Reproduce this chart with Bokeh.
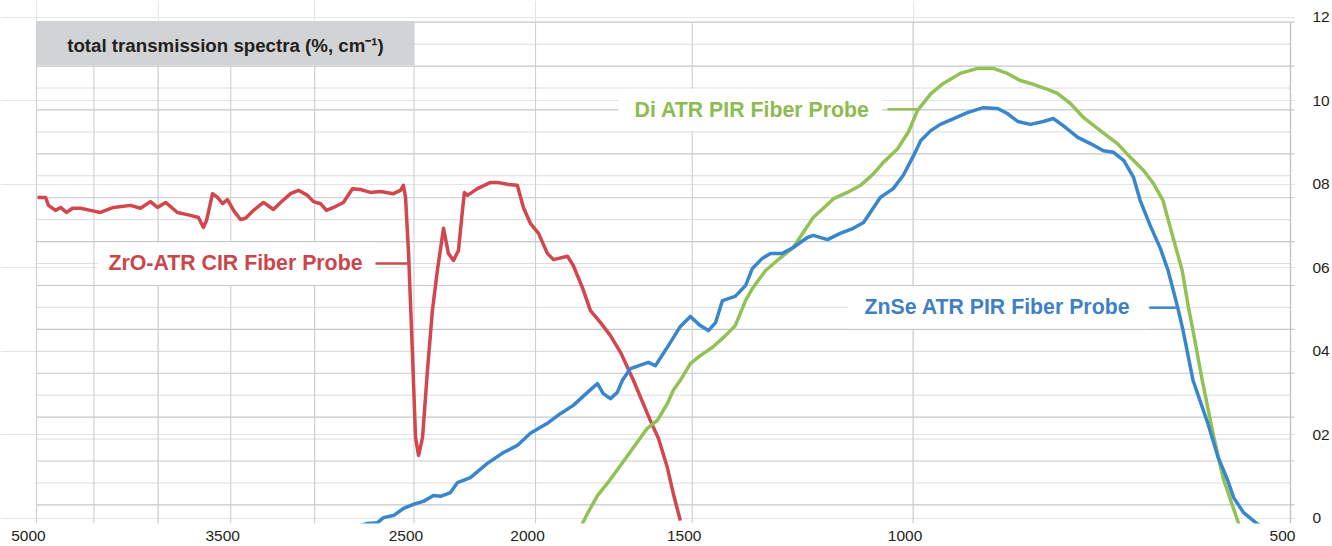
from bokeh.plotting import figure
from bokeh.models import Range1d, LogAxis, LinearAxis, FixedTicker, LogScale, Label
from bokeh.embed import file_html
from bokeh.resources import INLINE

# ---------------- data ----------------
x_ticks = [5000, 3500, 2500, 2000, 1500, 1000, 500]
x_tick_labels = ["5000", "3500", "2500", "2000", "1500", "1000", "500"]
x_grid = [5000, 4500, 4000, 3500, 3000, 2500, 2000, 1500, 1000, 500]
y_ticks = [0, 2, 4, 6, 8, 10, 12]
y_tick_labels = ["0", "02", "04", "06", "08", "10", "12"]

series_names = ["ZrO-ATR CIR Fiber Probe", "Di ATR PIR Fiber Probe", "ZnSe ATR PIR Fiber Probe"]

zro_wn = [4990, 4918, 4891, 4829, 4784, 4732, 4680, 4612, 4528, 4446, 4341, 4207, 4131, 4056,
          4004, 3945, 3860, 3768, 3714, 3680, 3659, 3619, 3586, 3553, 3521, 3482, 3438, 3406,
          3357, 3296, 3236, 3194, 3136, 3091, 3040, 3007, 2968, 2936, 2898, 2846, 2799, 2758,
          2708, 2659, 2596, 2563, 2549, 2539, 2525, 2507, 2493, 2479, 2461, 2439, 2417, 2395,
          2368, 2347, 2325, 2304, 2287, 2279, 2266, 2225, 2172, 2145, 2102, 2068, 2045, 2019,
          1989, 1957, 1935, 1886, 1866, 1835, 1808, 1775, 1743, 1711, 1671, 1620, 1596, 1570,
          1553, 1533]
zro_t = [7.69, 7.69, 7.50, 7.38, 7.45, 7.33, 7.43, 7.43, 7.38, 7.33, 7.45, 7.50, 7.43, 7.59,
         7.45, 7.57, 7.33, 7.26, 7.21, 6.97, 7.14, 7.78, 7.69, 7.54, 7.64, 7.38, 7.16, 7.19,
         7.38, 7.57, 7.40, 7.57, 7.78, 7.86, 7.74, 7.59, 7.54, 7.38, 7.45, 7.57, 7.90, 7.88,
         7.81, 7.83, 7.78, 7.86, 7.98, 7.69, 6.35, 3.95, 1.94, 1.51, 1.94, 3.54, 4.98, 5.94,
         6.95, 6.35, 6.18, 6.42, 7.38, 7.81, 7.74, 7.90, 8.05, 8.05, 8.00, 7.98, 7.45, 7.07,
         6.83, 6.35, 6.20, 6.28, 6.06, 5.53, 4.98, 4.69, 4.38, 3.98, 3.31, 2.35, 1.92, 1.22,
         0.60, -0.05]

znse_wn = [2758, 2723, 2673, 2644, 2596, 2549, 2502, 2457, 2412, 2381, 2338, 2308, 2254, 2185,
           2121, 2068, 2019, 1957, 1911, 1866, 1818, 1785, 1766, 1743, 1721, 1705, 1680, 1626,
           1605, 1567, 1533, 1505, 1478, 1456, 1437, 1419, 1386, 1360, 1343, 1319, 1299, 1271,
           1246, 1214, 1201, 1170, 1143, 1116, 1095, 1075, 1062, 1037, 1018, 999, 986, 968,
           951, 928, 905, 879, 856, 841, 825, 806, 787, 773, 759, 739, 722, 705, 692, 679,
           667, 659, 647, 635, 626, 615, 609, 598, 593, 582, 571, 561, 555, 545, 533, 527]
znse_t = [-0.17, -0.12, -0.10, 0.02, 0.07, 0.24, 0.34, 0.41, 0.55, 0.53, 0.62, 0.86, 0.98, 1.32,
          1.58, 1.75, 2.04, 2.28, 2.51, 2.71, 3.02, 3.23, 2.99, 2.87, 3.02, 3.31, 3.59, 3.74,
          3.66, 4.14, 4.60, 4.84, 4.62, 4.50, 4.69, 5.22, 5.32, 5.58, 5.99, 6.23, 6.35, 6.35,
          6.49, 6.73, 6.78, 6.68, 6.83, 6.95, 7.09, 7.45, 7.69, 7.90, 8.22, 8.69, 9.05, 9.29,
          9.44, 9.58, 9.72, 9.84, 9.82, 9.70, 9.51, 9.44, 9.51, 9.58, 9.41, 9.13, 8.98, 8.81,
          8.77, 8.57, 8.17, 7.62, 7.02, 6.47, 5.94, 5.05, 4.50, 3.31, 2.99, 2.28, 1.46, 0.91,
          0.50, 0.14, -0.10, -0.20]

di_wn = [1842, 1835, 1818, 1785, 1753, 1711, 1671, 1629, 1599, 1570, 1553, 1533, 1505, 1478,
         1445, 1411, 1386, 1360, 1343, 1311, 1283, 1246, 1201, 1157, 1128, 1101, 1075, 1056,
         1029, 1008, 992, 968, 946, 917, 888, 863, 841, 821, 802, 781, 767, 749, 731, 709,
         687, 671, 655, 643, 632, 621, 610, 603, 598, 588, 576, 566, 550, 548]
di_t = [-0.24, -0.12, 0.12, 0.55, 0.84, 1.27, 1.70, 2.16, 2.35, 2.75, 3.07, 3.31, 3.71, 3.90,
        4.10, 4.38, 4.62, 5.22, 5.51, 5.94, 6.18, 6.49, 7.21, 7.66, 7.81, 7.98, 8.26, 8.53,
        8.85, 9.27, 9.77, 10.17, 10.42, 10.66, 10.78, 10.78, 10.66, 10.49, 10.40, 10.28, 10.18, 9.94,
        9.60, 9.29, 8.98, 8.65, 8.34, 8.02, 7.62, 6.78, 5.94, 5.05, 4.50, 3.31, 1.99, 0.98,
        -0.12, -0.29]

# ---------------- layout / style ----------------
FONT = "Liberation Sans"
W, H = 1332, 546
PX_DEC = 1254.0          # pixels per decade on the log wavenumber axis


def shift(wn, px):
    """wavenumber lying px pixels to the right of wn on the reversed log axis"""
    return wn * 10 ** (-px / PX_DEC)


X_START = shift(5000, -36)     # frame starts 36 px left of the 5000 line
X_END = shift(500, 5)          # frame ends 5 px right of the 500 line
Y_START, Y_END = -0.12, 12.407
GRID_TOP, GRID_STEP, N_GRID = 11.887, 0.5255, 23
grid_y = [GRID_TOP - k * GRID_STEP for k in range(N_GRID)]

RED, GREEN, BLUE = "#d2474d", "#92c255", "#3a86cc"
RED_T, GREEN_T, BLUE_T = "#c9464b", "#8dbb4f", "#3f80c4"
TXT = "#231f20"

p = figure(width=W, height=H, x_axis_type="log",
           x_range=Range1d(X_START, X_END), y_range=Range1d(Y_START, Y_END),
           x_axis_location=None, y_axis_location=None,
           toolbar_location=None, output_backend="svg",
           min_border_left=0, min_border_top=0, min_border_right=37, min_border_bottom=23)
p.outline_line_color = None
p.background_fill_color = "white"
p.border_fill_color = "white"

# grid
for k, gy in enumerate(grid_y):
    major = (k % 2 == 0)
    p.segment(x0=5000, x1=shift(500, 4) if major else 500, y0=gy, y1=gy,
              line_color="#c3c7cb" if major else "#d9dce0", line_width=1.2 if major else 1)
p.segment(x0=x_grid, x1=x_grid, y0=Y_START, y1=GRID_TOP, line_color="#cbd0d5", line_width=1.1)
p.segment(x0=500, x1=500, y0=Y_START, y1=GRID_TOP, line_color="#bfc4c9", line_width=1.3)

# title box and label boxes
p.quad(left=5000, right=2500, top=GRID_TOP + 0.03, bottom=grid_y[2] + 0.012,
       fill_color="#d1d3d4", line_color=None)
for (l, r, k) in [(1718, 1058, 3), (4470, 2683, 10), (1128, 649, 12)]:
    p.quad(left=l, right=r, top=grid_y[k] - 0.02, bottom=grid_y[k + 2] + 0.02,
           fill_color="white", line_color=None)

# curves
p.line(zro_wn, zro_t, line_color=RED, line_width=3.5, line_join="round")
p.line(di_wn, di_t, line_color=GREEN, line_width=3.5, line_join="round")
p.line(znse_wn, znse_t, line_color=BLUE, line_width=3.5, line_join="round")

# leader lines
p.line([1048, 990], [9.80, 9.80], line_color=GREEN, line_width=2.5)
p.line([2683, 2525], [6.11, 6.11], line_color=RED, line_width=2.5)
p.line([648, 615], [5.05, 5.05], line_color=BLUE, line_width=2.5)

# texts
p.add_layout(Label(x=3534, y=11.325, text="total transmission spectra (%, cm\u207b\u00b9)",
                   text_align="center", text_baseline="middle", text_font=FONT,
                   text_font_style="bold", text_font_size="18.7px", text_color=TXT))
for (name, x, y, c) in [(series_names[0], 2748, 6.108, RED_T),
                        (series_names[1], 1083, 9.796, GREEN_T),
                        (series_names[2], 671, 5.054, BLUE_T)]:
    p.add_layout(Label(x=x, y=y, text=name, text_align="right", text_baseline="middle",
                       text_font=FONT, text_font_style="bold", text_font_size="21.3px",
                       text_color=c))

# axes (x labels sit 8 px left of their grid lines, as in the reference)
p.extra_x_ranges = {"lab": Range1d(shift(X_START, 8), shift(X_END, 8))}
p.extra_x_scales = {"lab": LogScale()}
xax = LogAxis(x_range_name="lab", ticker=FixedTicker(ticks=x_ticks),
              major_label_overrides=dict(zip(x_ticks, x_tick_labels)))
yax = LinearAxis(ticker=FixedTicker(ticks=y_ticks),
                 major_label_overrides=dict(zip(y_ticks, y_tick_labels)))
for ax, so in [(xax, 1), (yax, 11)]:
    ax.axis_line_color = None
    ax.major_tick_line_color = None
    ax.minor_tick_line_color = None
    ax.major_label_standoff = so
    ax.major_label_text_font = FONT
    ax.major_label_text_font_size = "15.5px"
    ax.major_label_text_color = TXT
p.add_layout(xax, "below")
p.add_layout(yax, "right")

open("out.html", "w").write(file_html(p, INLINE, title="total transmission spectra"))
